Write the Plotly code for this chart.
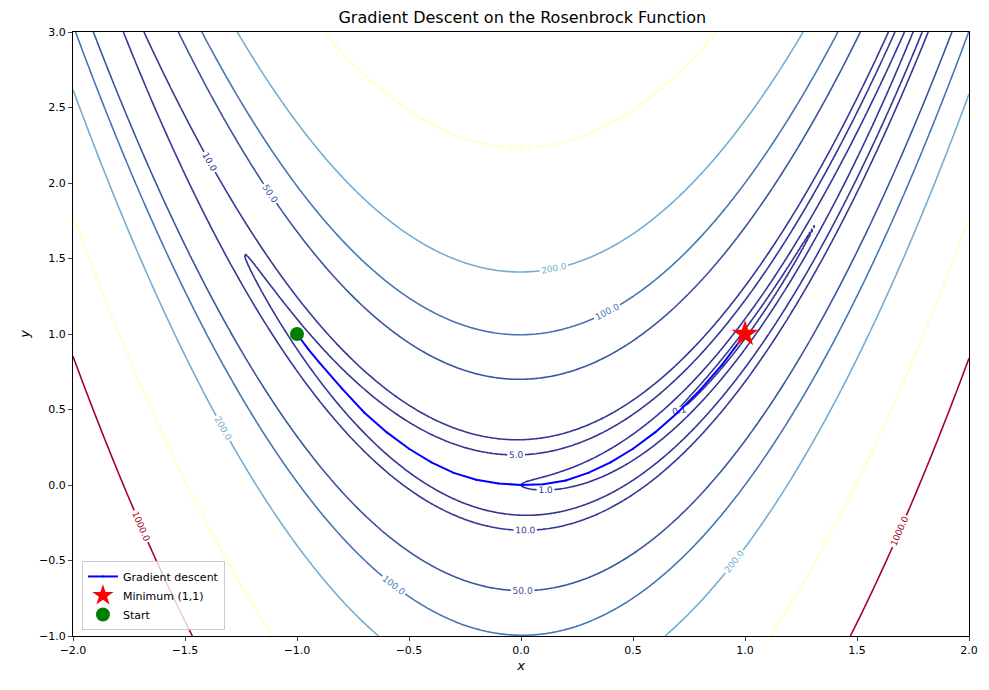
import numpy as np
import plotly.graph_objects as go

LEVELS = [0.1, 1, 5, 10, 50, 100, 200, 500, 1000]
COLORS = ["#313695", "#313695", "#313695", "#323896", "#3a559f", "#4575b4",
          "#74add1", "#ffffbf", "#a50026"]

# descent path
path_x = [-1.0, -0.95, -0.9, -0.8, -0.7, -0.6, -0.5, -0.4, -0.3, -0.2, -0.1, 0.0,
          0.1, 0.2, 0.3, 0.4, 0.5, 0.6, 0.7, 0.8, 0.9, 1.0]
path_y = [1.0, 0.9, 0.81, 0.64, 0.48, 0.35, 0.24, 0.15, 0.08, 0.035, 0.01, 0.0,
          0.005, 0.03, 0.08, 0.15, 0.24, 0.35, 0.48, 0.63, 0.8, 1.0]

x = np.linspace(-2, 2, 400)
y = np.linspace(-1, 3, 400)
X, Y = np.meshgrid(x, y)
Z = (1 - X) ** 2 + 100 * (Y - X ** 2) ** 2

fig = go.Figure()
for lev, col in zip(LEVELS, COLORS):
    fig.add_trace(go.Contour(
        x=x, y=y, z=Z, showscale=False, hoverinfo="skip",
        contours=dict(start=lev, end=lev, size=1, coloring="lines", showlabels=True,
                      labelformat=".1f", labelfont=dict(size=9, color=col)),
        colorscale=[[0, col], [1, col]], line=dict(width=1.6), showlegend=False))

fig.add_trace(go.Scatter(x=path_x, y=path_y, mode="lines+markers", name="Gradient descent",
                         line=dict(color="blue", width=2), marker=dict(size=2)))
fig.add_trace(go.Scatter(x=[1], y=[1], mode="markers", name="Minimum (1,1)",
                         marker=dict(symbol="star", size=20, color="red")))
fig.add_trace(go.Scatter(x=[-1], y=[1], mode="markers", name="Start",
                         marker=dict(size=14, color="green")))

fig.update_layout(
    width=989, height=690, plot_bgcolor="white", paper_bgcolor="white",
    margin=dict(l=65, r=28, t=24, b=62),
    font=dict(family="DejaVu Sans", size=11, color="black"),
    title=dict(text="Gradient Descent on the Rosenbrock Function", x=0.52, y=0.995,
               yanchor="top", font=dict(size=16)),
    legend=dict(x=0.01, y=0.01, xanchor="left", yanchor="bottom",
                bordercolor="#cccccc", borderwidth=1, bgcolor="rgba(255,255,255,0.8)"),
)
axis = dict(showgrid=False, zeroline=False, showline=True, linecolor="black", mirror=True,
            ticks="outside", ticklen=4)
fig.update_xaxes(range=[-2, 2], dtick=0.5, tickformat=".1f",
                 title=dict(text="<i>x</i>", standoff=4), **axis)
fig.update_yaxes(range=[-1, 3], dtick=0.5, tickformat=".1f",
                 title=dict(text="<i>y</i>", standoff=6), **axis)

fig.write_html("out.html")
